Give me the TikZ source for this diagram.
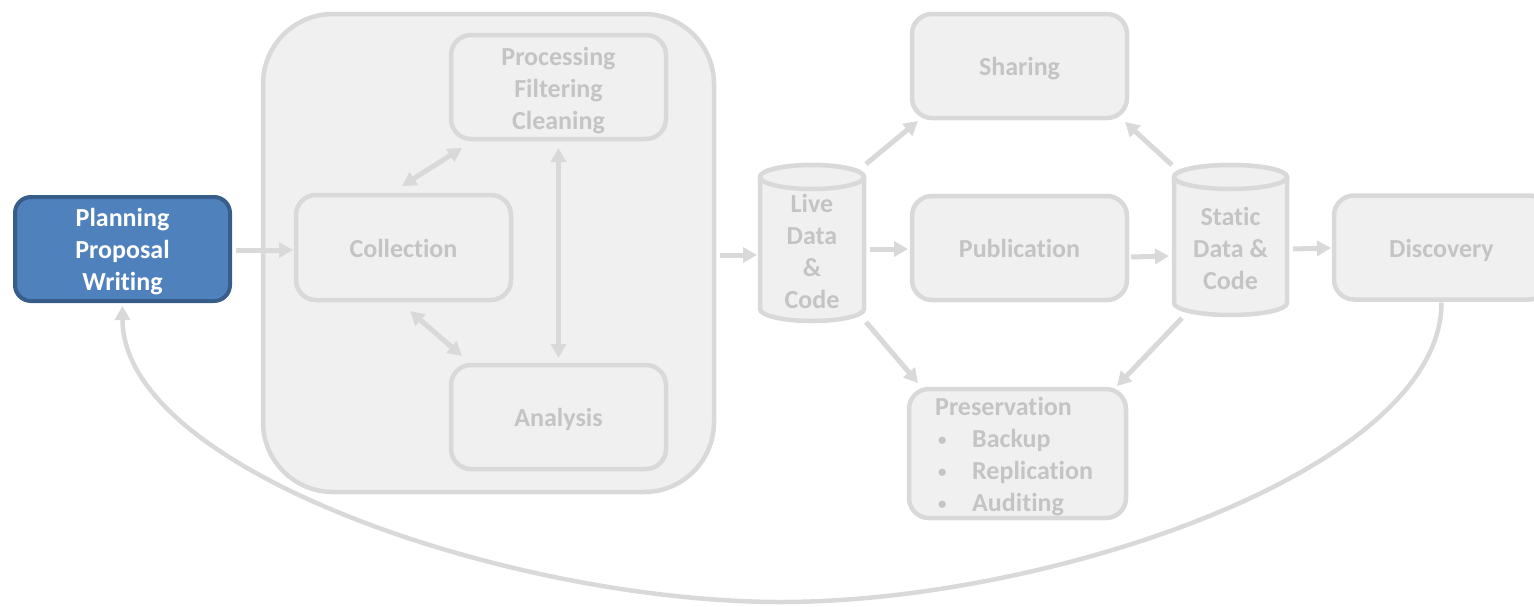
\documentclass[tikz,border=0pt]{standalone}
\usepackage{fontspec}
\setmainfont{Carlito}[Ligatures=NoCommon]
\usepackage{graphicx}
\usetikzlibrary{arrows.meta,calc}
\definecolor{bord}{HTML}{D9D9D9}
\definecolor{boxfill}{HTML}{F0F0F0}
\definecolor{gtext}{HTML}{C4C4C4}
\definecolor{bluefill}{HTML}{4F81BD}
\definecolor{blueedge}{HTML}{385D8A}
\newcommand{\lines}[2]{\raisebox{#1}[\height][\depth]{\begin{tabular}{@{}c@{}}#2\end{tabular}}}
\newcommand{\bul}{\makebox[37pt][l]{\hspace{3pt}\raisebox{2.5pt}{\fontsize{17}{17}\selectfont •}}}
\tikzset{
  gbox/.style={draw=bord, fill=boxfill, line width=4.5pt, rounded corners=20pt,
    minimum width=215pt, minimum height=104pt, outer sep=0pt, inner sep=0pt,
    text=gtext},
  oneline/.style={text height=19pt, text depth=0pt},
  bbox/.style={draw=blueedge, fill=bluefill, line width=4pt, rounded corners=16pt,
    minimum width=215pt, minimum height=104pt, outer sep=0pt, inner sep=0pt,
    text=white},
  cylarea/.style={draw=none, minimum width=104pt, outer sep=0pt, inner sep=0pt},
  cyltext/.style={text=gtext, align=center, inner sep=0pt},
  cylline/.style={draw=bord, fill=boxfill, line width=4.5pt},
  arr/.style={draw=bord, line width=5pt, -{Triangle[length=14pt,width=15pt]}},
  darr/.style={draw=bord, line width=5pt, {Triangle[length=14pt,width=15pt]}-{Triangle[length=14pt,width=15pt]}},
  loopline/.style={draw=bord, line width=4.5pt, -{Triangle[length=14pt,width=15pt]}},
}
\begin{document}
\begin{tikzpicture}[x=1pt,y=-1pt,font=\fontsize{26}{32}\selectfont\bfseries]
\useasboundingbox (0,0) rectangle (1534,606);
\clip (0,0) rectangle (1534,606);

% container
\node[gbox, rounded corners=70pt, minimum width=451pt, minimum height=478pt] (cont) at (488.5,253) {};

% boxes
\node[bbox] (plan) at (122.5,249) {\lines{-3pt}{Planning\\Proposal\\Writing}};
\node[gbox] (proc) at (558.5,87) {\lines{-4pt}{Processing\\Filtering\\Cleaning}};
\node[gbox, oneline, minimum height=105pt] (coll) at (403.5,247.5) {Collection};
\node[gbox, oneline] (anal) at (558.5,417) {Analysis};
\node[gbox, oneline] (shar) at (1019.5,66) {Sharing};
\node[gbox, oneline] (publ) at (1019.5,248) {Publication};
\node[gbox, minimum width=217pt, minimum height=129pt] (pres) at (1017.5,453.5) {};
\node[anchor=west, align=left, text=gtext, inner sep=0pt] (prestext) at (935,457)
  {Preservation\\\bul Backup\\\bul Replication\\\bul Auditing};
\node[gbox, oneline] (disc) at (1441.5,247.5) {Discovery};

% cylinders
\node[cylarea, minimum height=156pt] (live) at (812,243) {};
\draw[cylline] ($(live.north west)+(0,12)$) -- ($(live.south west)+(0,-12)$)
  arc[start angle=180, end angle=0, x radius=52, y radius=12]
  -- ($(live.north east)+(0,12)$)
  arc[start angle=0, end angle=-180, x radius=52, y radius=12] -- cycle;
\draw[cylline] ($(live.north)+(0,12)$) ellipse[x radius=52, y radius=12];
\node[cyltext] (livetext) at (812,251) {Live\\Data\\\&\\Code};

\node[cylarea, minimum width=113pt, minimum height=150pt] (stat) at (1230.5,240) {};
\draw[cylline] ($(stat.north west)+(0,12)$) -- ($(stat.south west)+(0,-12)$)
  arc[start angle=180, end angle=0, x radius=56.5, y radius=12]
  -- ($(stat.north east)+(0,12)$)
  arc[start angle=0, end angle=-180, x radius=56.5, y radius=12] -- cycle;
\draw[cylline] ($(stat.north)+(0,12)$) ellipse[x radius=56.5, y radius=12];
\node[cyltext] (stattext) at (1230.5,248) {Static\\Data \&\\Code};

% connectors
\draw[arr] ($(plan.east)+(6,1)$) -- ($(coll.west)+(-3,2.5)$);
\draw[darr] ($(coll.north)+(-1.5,-9)$) -- ($(proc.south west)+(11,9)$);
\draw[darr] ($(coll.south)+(6.5,11)$) -- ($(anal.north west)+(11,-9)$);
\draw[darr] ($(proc.south)+(0,9)$) -- ($(anal.north)+(0,-7)$);
\draw[arr] ($(cont.east)+(6,2)$) -- ($(live.west)+(-3,12)$);
\draw[arr] ($(live.east)+(6,6)$) -- ($(publ.west)+(-4,1)$);
\draw[arr] ($(live.north east)+(2,-1)$) -- ($(shar.south west)+(6,3)$);
\draw[arr] ($(live.south east)+(2,1)$) -- ($(pres.north west)+(9,-6)$);
\draw[arr] ($(publ.east)+(4,9)$) -- ($(stat.west)+(-5,16)$);
\draw[arr] ($(stat.north west)+(-2,0)$) -- ($(shar.south east)+(-2,4)$);
\draw[arr] ($(stat.south west)+(8,3)$) -- ($(pres.north east)+(-9,-3)$);
\draw[arr] ($(stat.east)+(6,9)$) -- ($(disc.west)+(-3,0.5)$);

\coordinate (loopbottom) at (781,602);
\draw[loopline] ($(disc.south)+(0,3)$) .. controls +(0,167) and (1050,602) .. (loopbottom)
  .. controls (513,602) and +(0,165) .. ($(plan.south)+(0,5)$);
\end{tikzpicture}
\end{document}
